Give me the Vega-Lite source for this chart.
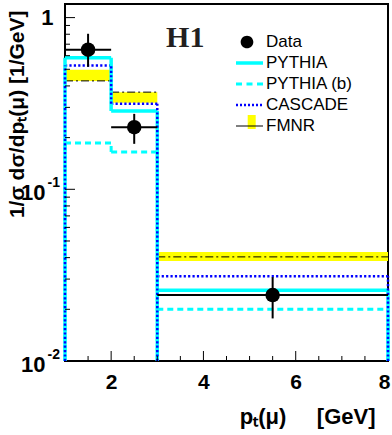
{
  "$schema": "https://vega.github.io/schema/vega-lite/v6.json",
  "width": 323,
  "height": 357,
  "autosize": {"type": "none"},
  "padding": {"left": 65, "top": 4, "right": 4, "bottom": 74},
  "background": "white",
  "config": {
    "view": {"stroke": "black", "strokeWidth": 2},
    "font": "Liberation Sans"
  },
  "datasets": {
    "hist": [
      {"series": "FMNR", "xlo": 1, "xhi": 2, "y": 0.428},
      {"series": "FMNR", "xlo": 2, "xhi": 3, "y": 0.368},
      {"series": "FMNR", "xlo": 3, "xhi": 8, "y": 0.0404},
      {"series": "PYTHIA", "xlo": 1, "xhi": 2, "y": 0.583},
      {"series": "PYTHIA", "xlo": 2, "xhi": 3, "y": 0.286},
      {"series": "PYTHIA", "xlo": 3, "xhi": 8, "y": 0.0258},
      {"series": "PYTHIA (b)", "xlo": 1, "xhi": 2, "y": 0.186},
      {"series": "PYTHIA (b)", "xlo": 2, "xhi": 3, "y": 0.165},
      {"series": "PYTHIA (b)", "xlo": 3, "xhi": 8, "y": 0.020},
      {"series": "CASCADE", "xlo": 1, "xhi": 2, "y": 0.526},
      {"series": "CASCADE", "xlo": 2, "xhi": 3, "y": 0.315},
      {"series": "CASCADE", "xlo": 3, "xhi": 8, "y": 0.0312}
    ],
    "edges": [
      {"series": "PYTHIA", "x": 1, "ylo": 0.01, "yhi": 0.583},
      {"series": "PYTHIA", "x": 2, "ylo": 0.286, "yhi": 0.583},
      {"series": "PYTHIA", "x": 3, "ylo": 0.01, "yhi": 0.286},
      {"series": "PYTHIA", "x": 8, "ylo": 0.01, "yhi": 0.0258},
      {"series": "PYTHIA (b)", "x": 1, "ylo": 0.01, "yhi": 0.186},
      {"series": "PYTHIA (b)", "x": 2, "ylo": 0.165, "yhi": 0.186},
      {"series": "PYTHIA (b)", "x": 3, "ylo": 0.01, "yhi": 0.165},
      {"series": "PYTHIA (b)", "x": 8, "ylo": 0.01, "yhi": 0.020},
      {"series": "CASCADE", "x": 1, "ylo": 0.01, "yhi": 0.526},
      {"series": "CASCADE", "x": 2, "ylo": 0.315, "yhi": 0.526},
      {"series": "CASCADE", "x": 3, "ylo": 0.01, "yhi": 0.315},
      {"series": "CASCADE", "x": 8, "ylo": 0.01, "yhi": 0.0312}
    ],
    "band": [
      {"xlo": 1, "xhi": 2, "lo": 0.428, "hi": 0.497},
      {"xlo": 2, "xhi": 3, "lo": 0.319, "hi": 0.368},
      {"xlo": 3, "xhi": 8, "lo": 0.0382, "hi": 0.0431}
    ],
    "points": [
      {"x": 1.5, "xlo": 1, "xhi": 2, "y": 0.65, "ylo": 0.517, "yhi": 0.805},
      {"x": 2.5, "xlo": 2, "xhi": 3, "y": 0.23, "ylo": 0.184, "yhi": 0.275},
      {"x": 5.5, "xlo": 3, "xhi": 8, "y": 0.0242, "ylo": 0.0177, "yhi": 0.0308}
    ],
    "labels": [{"label": "H1", "x": 3.19, "y": 0.676}],
    "xticks": [
      {"v": 1.5, "kind": "minor"}, {"v": 2, "kind": "major"}, {"v": 2.5, "kind": "minor"}, {"v": 3, "kind": "minor"},
      {"v": 3.5, "kind": "minor"}, {"v": 4, "kind": "major"}, {"v": 4.5, "kind": "minor"}, {"v": 5, "kind": "minor"},
      {"v": 5.5, "kind": "minor"}, {"v": 6, "kind": "major"}, {"v": 6.5, "kind": "minor"}, {"v": 7, "kind": "minor"},
      {"v": 7.5, "kind": "minor"}
    ],
    "yticks": [
      {"v": 0.02, "kind": "minor"}, {"v": 0.03, "kind": "minor"}, {"v": 0.04, "kind": "minor"}, {"v": 0.05, "kind": "minor"},
      {"v": 0.06, "kind": "minor"}, {"v": 0.07, "kind": "minor"}, {"v": 0.08, "kind": "minor"}, {"v": 0.09, "kind": "minor"},
      {"v": 0.1, "kind": "major"}, {"v": 0.2, "kind": "minor"}, {"v": 0.3, "kind": "minor"}, {"v": 0.4, "kind": "minor"},
      {"v": 0.5, "kind": "minor"}, {"v": 0.6, "kind": "minor"}, {"v": 0.7, "kind": "minor"}, {"v": 0.8, "kind": "minor"},
      {"v": 0.9, "kind": "minor"}, {"v": 1, "kind": "major"}
    ]
  },
  "resolve": {"axis": {"x": "independent", "y": "independent"}},
  "layer": [
    {
      "data": {"name": "band"},
      "mark": {"type": "rect"},
      "encoding": {
        "x": {"field": "xlo", "type": "quantitative", "scale": {"domain": [1, 8], "nice": false, "zero": false},
          "axis": {"orient": "bottom", "values": [2, 4, 6, 8], "ticks": false, "tickSize": 0, "domain": false, "grid": false,
            "labelFont": "Liberation Sans", "labelFontWeight": "bold", "labelFontSize": 21, "labelColor": "black", "labelPadding": 10,
            "labelFlush": true, "labelFlushOffset": 2,
            "title": "pₜ(μ)\u00a0\u00a0\u00a0\u00a0\u00a0[GeV]", "titleFont": "Liberation Sans", "titleFontWeight": "bold", "titleFontSize": 22, "titleColor": "black",
            "titleAnchor": "end", "titleAlign": "right", "titleX": 310, "titleY": 62, "titleBaseline": "alphabetic"}},
        "x2": {"field": "xhi"},
        "y": {"field": "lo", "type": "quantitative", "scale": {"type": "log", "domain": [0.01, 1.2], "nice": false},
          "axis": {"orient": "left", "values": [1], "labelExpr": "'1'", "ticks": false, "tickSize": 0, "domain": false, "grid": false,
            "labelFont": "Liberation Sans", "labelFontWeight": "bold", "labelFontSize": 22, "labelColor": "black", "labelPadding": 12, "labelBaseline": "middle",
            "title": "1/σ dσ/dpₜ(μ) [1/GeV]", "titleFont": "Liberation Sans", "titleFontWeight": "bold", "titleFontSize": 21, "titleColor": "black",
            "titleAnchor": "end", "titleAlign": "right", "titleAngle": -90, "titleX": -42, "titleY": 6, "titleBaseline": "alphabetic"}},
        "y2": {"field": "hi"},
        "color": {"datum": "FMNR", "scale": {"domain": ["FMNR"], "range": ["#ffff00"]},
          "legend": {"orient": "none", "legendX": 178.7, "legendY": 110, "title": null, "symbolSize": 256, "symbolStrokeWidth": 0,
            "clipHeight": 16, "padding": 0, "labelExpr": "''", "labelFontSize": 1, "labelOffset": 0,
            "symbolType": "M-0.5,-0.875H0.5V0.875H-0.5Z",
            "encode": {"symbols": {"update": {"fill": {"value": "#ffff00"}, "stroke": {"value": "transparent"}, "opacity": {"value": 1}}}}}}
      }
    },
    {
      "data": {"name": "hist"},
      "mark": {"type": "rule"},
      "encoding": {
        "x": {"field": "xlo", "type": "quantitative", "scale": {"domain": [1, 8], "nice": false, "zero": false}, "axis": null},
        "x2": {"field": "xhi"},
        "y": {"field": "y", "type": "quantitative", "scale": {"type": "log", "domain": [0.01, 1.2], "nice": false},
          "axis": {"orient": "left", "values": [0.01, 0.1], "labelExpr": "'10'", "ticks": false, "tickSize": 0, "domain": false, "grid": false, "title": null,
            "labelFont": "Liberation Sans", "labelFontWeight": "bold", "labelFontSize": 22, "labelColor": "black", "labelPadding": 20, "labelBaseline": "middle",
            "labelOffset": 3}},
        "stroke": {"field": "series", "type": "nominal",
          "scale": {"domain": ["Data", "PYTHIA", "PYTHIA (b)", "CASCADE", "FMNR"], "range": ["black", "#00ffff", "#00ffff", "#0000ff", "black"]},
          "legend": {"orient": "none", "legendX": 171, "legendY": 29.5, "title": null, "symbolSize": 729, "symbolStrokeWidth": 0,
            "clipHeight": 17, "rowPadding": 3, "padding": 0, "symbolOffset": 0,
            "labelFont": "Liberation Sans", "labelFontSize": 17, "labelColor": "black", "labelOffset": 3, "labelBaseline": "middle",
            "encode": {"symbols": {"update": {
              "shape": {"signal": "datum.value === 'Data' ? 'M-0.655,0A0.47,0.47 0 1,0 0.285,0A0.47,0.47 0 1,0 -0.655,0Z' : datum.value === 'PYTHIA' ? 'M-1,-0.13H1V0.13H-1Z' : datum.value === 'PYTHIA (b)' ? 'M-1,-0.11H-0.556V0.11H-1Z M-0.222,-0.11H0.222V0.11H-0.222Z M0.556,-0.11H1V0.11H0.556Z' : datum.value === 'CASCADE' ? 'M-1,-0.09H-0.852V0.09H-1Z M-0.704,-0.09H-0.556V0.09H-0.704Z M-0.407,-0.09H-0.259V0.09H-0.407Z M-0.111,-0.09H0.037V0.09H-0.111Z M0.185,-0.09H0.333V0.09H0.185Z M0.481,-0.09H0.629V0.09H0.481Z M0.778,-0.09H0.926V0.09H0.778Z' : 'M-1,-0.045H1V0.045H-1Z'"},
              "fill": {"signal": "datum.value === 'CASCADE' ? '#0000ff' : (datum.value === 'PYTHIA' || datum.value === 'PYTHIA (b)') ? '#00ffff' : 'black'"},
              "stroke": {"value": "transparent"},
              "strokeWidth": {"value": 0},
              "opacity": {"value": 1}
            }}}}},
        "strokeDash": {"condition": [
          {"test": "datum.series === 'PYTHIA (b)'", "value": [6, 4]},
          {"test": "datum.series === 'CASCADE'", "value": [2.2, 2.2]},
          {"test": "datum.series === 'FMNR'", "value": [8, 3, 2, 3]}], "value": [1, 0]},
        "strokeWidth": {"condition": [
          {"test": "datum.series === 'PYTHIA'", "value": 3.5},
          {"test": "datum.series === 'PYTHIA (b)'", "value": 3},
          {"test": "datum.series === 'CASCADE'", "value": 2.5}], "value": 1}
      }
    },
    {
      "data": {"name": "edges"},
      "mark": {"type": "rule"},
      "encoding": {
        "x": {"field": "x", "type": "quantitative", "scale": {"domain": [1, 8], "nice": false, "zero": false}, "axis": null},
        "y": {"field": "ylo", "type": "quantitative", "scale": {"type": "log", "domain": [0.01, 1.2], "nice": false},
          "axis": {"orient": "left", "values": [0.01, 0.1], "labelExpr": "datum.value > 0.05 ? '-1' : '-2'",
            "ticks": false, "tickSize": 0, "domain": false, "grid": false, "title": null,
            "labelFont": "Liberation Sans", "labelFontWeight": "bold", "labelFontSize": 14, "labelColor": "black",
            "labelAlign": "left", "labelBaseline": "middle", "labelPadding": 18, "labelOffset": -7}},
        "y2": {"field": "yhi"},
        "stroke": {"field": "series", "type": "nominal",
          "scale": {"domain": ["Data", "PYTHIA", "PYTHIA (b)", "CASCADE", "FMNR"], "range": ["black", "#00ffff", "#00ffff", "#0000ff", "black"]}},
        "strokeDash": {"condition": [
          {"test": "datum.series === 'PYTHIA (b)'", "value": [6, 4]},
          {"test": "datum.series === 'CASCADE'", "value": [2.2, 2.2]}], "value": [1, 0]},
        "strokeWidth": {"condition": [
          {"test": "datum.series === 'PYTHIA'", "value": 3.5},
          {"test": "datum.series === 'PYTHIA (b)'", "value": 3},
          {"test": "datum.series === 'CASCADE'", "value": 2.5}], "value": 1}
      }
    },
    {
      "data": {"name": "points"},
      "mark": {"type": "rule", "color": "black", "strokeWidth": 2},
      "encoding": {
        "x": {"field": "xlo", "type": "quantitative", "scale": {"domain": [1, 8], "nice": false, "zero": false}, "axis": null},
        "x2": {"field": "xhi"},
        "y": {"field": "y", "type": "quantitative", "scale": {"type": "log", "domain": [0.01, 1.2], "nice": false}, "axis": null}
      }
    },
    {
      "data": {"name": "points"},
      "mark": {"type": "rule", "color": "black", "strokeWidth": 2},
      "encoding": {
        "x": {"field": "x", "type": "quantitative", "scale": {"domain": [1, 8], "nice": false, "zero": false}, "axis": null},
        "y": {"field": "ylo", "type": "quantitative", "scale": {"type": "log", "domain": [0.01, 1.2], "nice": false}, "axis": null},
        "y2": {"field": "yhi"}
      }
    },
    {
      "data": {"name": "points"},
      "mark": {"type": "circle", "color": "black", "opacity": 1, "size": 210},
      "encoding": {
        "x": {"field": "x", "type": "quantitative", "scale": {"domain": [1, 8], "nice": false, "zero": false}, "axis": null},
        "y": {"field": "y", "type": "quantitative", "scale": {"type": "log", "domain": [0.01, 1.2], "nice": false}, "axis": null}
      }
    },
    {
      "data": {"name": "xticks"},
      "mark": {"type": "tick", "orient": "vertical", "color": "black", "thickness": 1, "clip": true, "opacity": 1},
      "encoding": {
        "x": {"field": "v", "type": "quantitative", "scale": {"domain": [1, 8], "nice": false, "zero": false}, "axis": null},
        "y": {"datum": 0.01, "type": "quantitative", "scale": {"type": "log", "domain": [0.01, 1.2], "nice": false}, "axis": null},
        "size": {"condition": {"test": "datum.kind === 'major'", "value": 20}, "value": 10}
      }
    },
    {
      "data": {"name": "yticks"},
      "mark": {"type": "tick", "orient": "horizontal", "color": "black", "thickness": 1, "clip": true, "opacity": 1},
      "encoding": {
        "x": {"datum": 1, "type": "quantitative", "scale": {"domain": [1, 8], "nice": false, "zero": false}, "axis": null},
        "y": {"field": "v", "type": "quantitative", "scale": {"type": "log", "domain": [0.01, 1.2], "nice": false}, "axis": null},
        "size": {"condition": {"test": "datum.kind === 'major'", "value": 20}, "value": 10}
      }
    },
    {
      "data": {"name": "labels"},
      "mark": {"type": "text", "font": "Liberation Serif", "fontWeight": "bold", "fontSize": 30, "color": "#231f20", "align": "left", "baseline": "alphabetic"},
      "encoding": {
        "x": {"field": "x", "type": "quantitative", "scale": {"domain": [1, 8], "nice": false, "zero": false}, "axis": null},
        "y": {"field": "y", "type": "quantitative", "scale": {"type": "log", "domain": [0.01, 1.2], "nice": false}, "axis": null},
        "text": {"field": "label"}
      }
    }
  ]
}
